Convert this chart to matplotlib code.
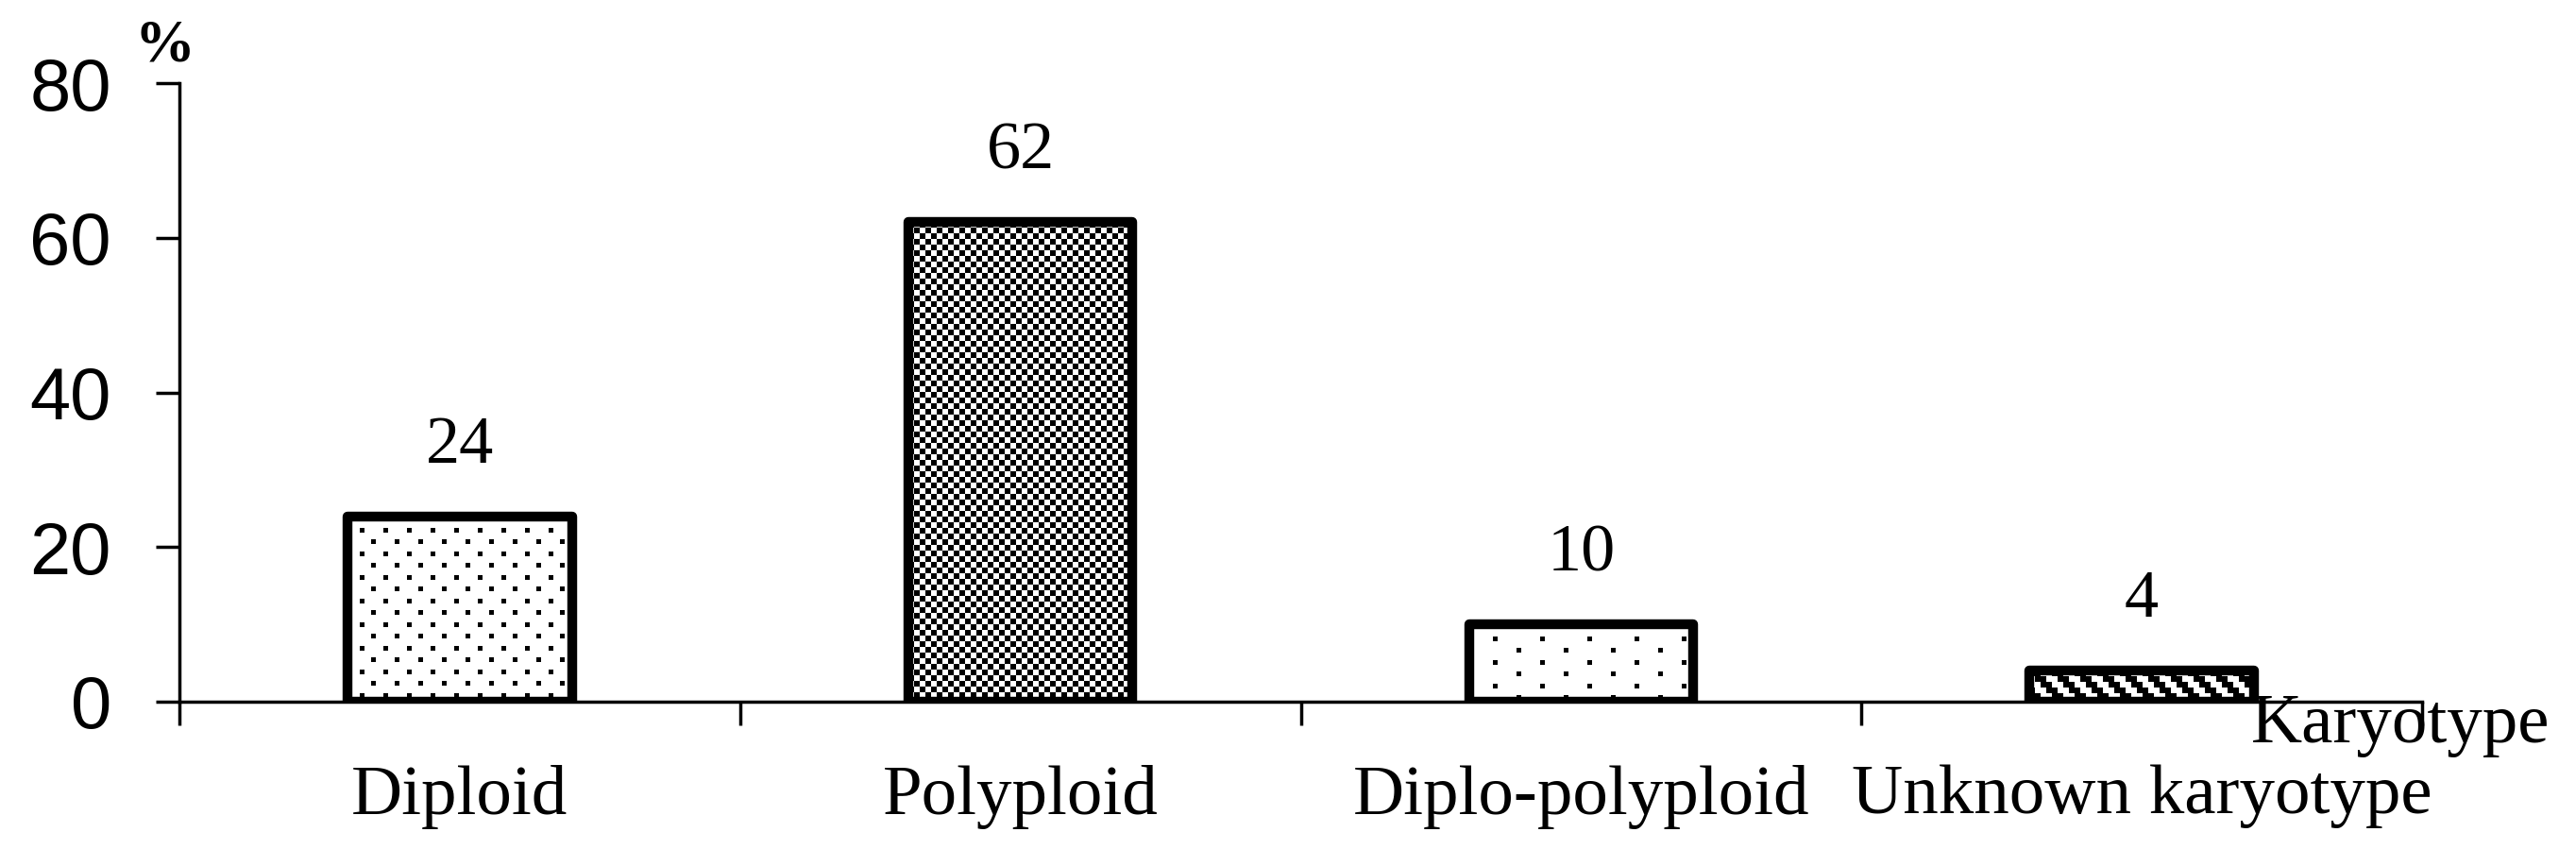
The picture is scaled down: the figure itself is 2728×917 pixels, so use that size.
import numpy as np
import matplotlib
matplotlib.use('Agg')
import matplotlib.pyplot as plt

# date
categories = ['Diploid', 'Polyploid', 'Diplo-polyploid', 'Unknown karyotype']
values = [24, 62, 10, 4]
patterns = ['dots', 'checker', 'sparse', 'diag']
yticks = [0, 20, 40, 60, 80]

serif = 'Liberation Serif'
sans = 'Liberation Sans'


def texture(kind, w, h):
    # model de pixeli ca in umplerile din Excel
    yy, xx = np.mgrid[0:h, 0:w]
    if kind == 'dots':
        m = ((xx % 25 < 5) & (yy % 25 < 5)) | (((xx + 12) % 25 < 5) & ((yy + 12) % 25 < 5))
    elif kind == 'sparse':
        m = ((xx % 50 < 5) & (yy % 25 < 5)) | (((xx + 25) % 50 < 5) & ((yy + 12) % 25 < 5))
    elif kind == 'checker':
        m = ((xx // 6) + (yy // 6)) % 2 == 0
    else:
        m = ((xx // 6) - (yy // 6)) % 4 < 2
    return np.where(m, 0.0, 1.0)


fig = plt.figure(figsize=(27.28, 9.17), dpi=100)
ax = fig.add_axes([190 / 2728, 174 / 917, 2375 / 2728, 655 / 917])
ax.set_xlim(0, 4)
ax.set_ylim(0, 80)

centers = np.arange(len(categories)) + 0.5
bars = ax.bar(centers, values, width=0.4, facecolor='none', edgecolor='black',
              linewidth=7.5, joinstyle='round', zorder=3)

for b, kind in zip(bars, patterns):
    x0, w, h = b.get_x(), b.get_width(), b.get_height()
    p0 = ax.transData.transform((x0, 0))
    p1 = ax.transData.transform((x0 + w, h))
    npx_w = int(abs(p1[0] - p0[0])) + 1
    npx_h = int(abs(p1[1] - p0[1])) + 1
    im = ax.imshow(texture(kind, npx_w, npx_h), cmap='gray', vmin=0, vmax=1,
                   extent=(x0, x0 + w, 0, h), aspect='auto',
                   interpolation='nearest', zorder=2)
    im.set_clip_path(b)

    ax.annotate(str(h), xy=(b.get_x() + w / 2, h), xytext=(0, 41),
                textcoords='offset points', ha='center', va='baseline',
                fontsize=52, family=serif)

ax.set_xlim(0, 4)
ax.set_ylim(0, 80)

for s in ['top', 'right']:
    ax.spines[s].set_visible(False)
for s in ['left', 'bottom']:
    ax.spines[s].set_linewidth(2.5)

ax.set_yticks(yticks)
ax.tick_params(axis='y', direction='out', length=18, width=2.5, pad=34,
               labelsize=56)
for t in ax.get_yticklabels():
    t.set_family(sans)

ax.set_xticks([0, 1, 2, 3, 4])
ax.set_xticklabels([])
ax.tick_params(axis='x', which='major', direction='out', length=18, width=2.5)
ax.set_xticks(centers, categories, minor=True)
ax.tick_params(axis='x', which='minor', length=0, pad=48, labelsize=54)
for t in ax.get_xticklabels(minor=True):
    t.set_family(serif)

ax.text(0.9238, -0.0656, 'Karyotype', transform=ax.transAxes, ha='left',
        va='baseline', fontsize=54, family=serif)
ax.text(-0.0067, 1.036, '%', transform=ax.transAxes, ha='center',
        va='baseline', fontsize=46, fontweight='bold', family=serif)

plt.savefig('out.png', dpi=100)
